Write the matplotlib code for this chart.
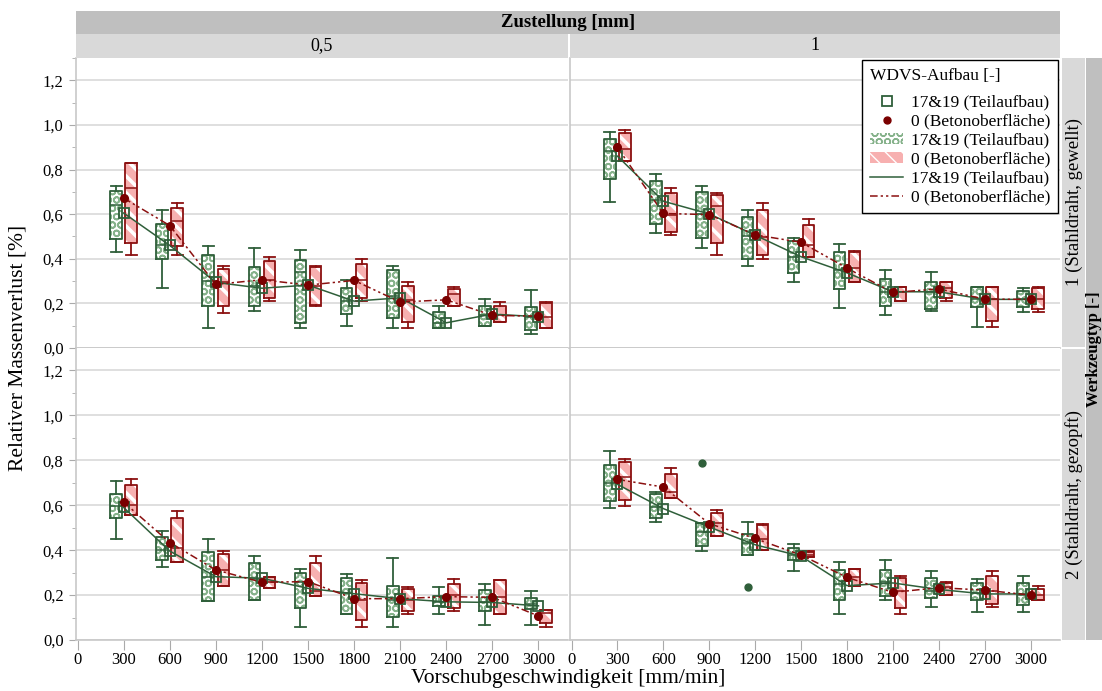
import matplotlib
matplotlib.use('Agg')
import matplotlib.pyplot as plt
from matplotlib.patches import Rectangle, Patch
from matplotlib.lines import Line2D
from matplotlib.ticker import FuncFormatter, MultipleLocator

plt.rcParams['font.family'] = ['Liberation Serif', 'DejaVu Serif']

# ---------------- data ----------------
feed = [300, 600, 900, 1200, 1500, 1800, 2100, 2400, 2700, 3000]
xtick_vals = [0, 300, 600, 900, 1200, 1500, 1800, 2100, 2400, 2700, 3000]
col_labels = ['0,5', '1']
row_labels = ['1 (Stahldraht, gewellt)', '2 (Stahldraht, gezopft)']
series_labels = ['17&19 (Teilaufbau)', '0 (Betonoberfläche)']

# top-left (Zustellung 0,5 / Werkzeug 1)
tl_g_lo   = [0.43, 0.27, 0.09, 0.167, 0.09, 0.098, 0.091, 0.091, 0.098, 0.061]
tl_g_q1   = [0.49, 0.40, 0.19, 0.188, 0.11, 0.152, 0.133, 0.091, 0.098, 0.081]
tl_g_med  = [0.64, 0.46, 0.30, 0.28, 0.34, 0.21, 0.233, 0.11, 0.15, 0.14]
tl_g_q3   = [0.705, 0.556, 0.418, 0.362, 0.394, 0.27, 0.348, 0.163, 0.189, 0.182]
tl_g_hi   = [0.726, 0.62, 0.458, 0.449, 0.44, 0.307, 0.367, 0.188, 0.219, 0.261]
tl_g_mean = [0.605, 0.46, 0.294, 0.268, 0.282, 0.21, 0.225, 0.113, 0.152, 0.14]
tl_r_lo   = [0.419, 0.419, 0.158, 0.209, 0.19, 0.21, 0.091, 0.188, 0.116, 0.089]
tl_r_q1   = [0.471, 0.458, 0.188, 0.224, 0.191, 0.224, 0.116, 0.188, 0.116, 0.089]
tl_r_med  = [0.716, 0.568, 0.294, 0.304, 0.28, 0.304, 0.215, 0.24, 0.15, 0.14]
tl_r_q3   = [0.831, 0.628, 0.356, 0.388, 0.364, 0.377, 0.279, 0.263, 0.189, 0.203]
tl_r_hi   = [0.831, 0.65, 0.367, 0.407, 0.367, 0.398, 0.295, 0.274, 0.207, 0.206]
tl_r_mean = [0.672, 0.549, 0.285, 0.306, 0.282, 0.303, 0.206, 0.216, 0.146, 0.143]

# top-right (Zustellung 1 / Werkzeug 1)
tr_g_lo   = [0.656, 0.516, 0.45, 0.368, 0.295, 0.179, 0.146, 0.167, 0.092, 0.16]
tr_g_q1   = [0.758, 0.558, 0.492, 0.398, 0.337, 0.264, 0.188, 0.176, 0.186, 0.183]
tr_g_med  = [0.885, 0.665, 0.60, 0.50, 0.41, 0.349, 0.252, 0.252, 0.218, 0.218]
tr_g_q3   = [0.937, 0.747, 0.70, 0.588, 0.479, 0.43, 0.31, 0.295, 0.274, 0.254]
tr_g_hi   = [0.968, 0.779, 0.725, 0.619, 0.494, 0.467, 0.348, 0.339, 0.274, 0.27]
tr_g_mean = [0.86, 0.658, 0.601, 0.506, 0.409, 0.337, 0.252, 0.252, 0.218, 0.218]
tr_r_lo   = [0.838, 0.507, 0.419, 0.398, 0.409, 0.295, 0.21, 0.21, 0.092, 0.16]
tr_r_q1   = [0.838, 0.522, 0.47, 0.415, 0.409, 0.295, 0.21, 0.225, 0.122, 0.173]
tr_r_med  = [0.89, 0.594, 0.637, 0.498, 0.461, 0.36, 0.252, 0.271, 0.22, 0.218]
tr_r_q3   = [0.963, 0.697, 0.686, 0.62, 0.553, 0.43, 0.273, 0.295, 0.273, 0.267]
tr_r_hi   = [0.977, 0.716, 0.695, 0.65, 0.579, 0.437, 0.274, 0.298, 0.274, 0.274]
tr_r_mean = [0.899, 0.603, 0.598, 0.507, 0.474, 0.358, 0.249, 0.265, 0.219, 0.218]

# bottom-left (Zustellung 0,5 / Werkzeug 2)
bl_g_lo   = [0.449, 0.327, 0.175, 0.18, 0.06, 0.115, 0.06, 0.115, 0.069, 0.069]
bl_g_q1   = [0.541, 0.354, 0.175, 0.18, 0.142, 0.115, 0.101, 0.152, 0.127, 0.137]
bl_g_med  = [0.596, 0.40, 0.28, 0.27, 0.26, 0.21, 0.18, 0.17, 0.167, 0.16]
bl_g_q3   = [0.651, 0.458, 0.391, 0.342, 0.30, 0.275, 0.239, 0.196, 0.224, 0.187]
bl_g_hi   = [0.706, 0.485, 0.448, 0.376, 0.317, 0.294, 0.367, 0.237, 0.248, 0.218]
bl_g_mean = [0.59, 0.396, 0.282, 0.275, 0.23, 0.206, 0.184, 0.17, 0.167, 0.152]
bl_r_lo   = [0.558, 0.346, 0.242, 0.23, 0.197, 0.06, 0.115, 0.127, 0.115, 0.06]
bl_r_q1   = [0.558, 0.346, 0.242, 0.23, 0.197, 0.09, 0.13, 0.142, 0.115, 0.075]
bl_r_med  = [0.60, 0.409, 0.31, 0.26, 0.22, 0.18, 0.18, 0.20, 0.19, 0.118]
bl_r_q3   = [0.691, 0.541, 0.384, 0.282, 0.342, 0.252, 0.227, 0.249, 0.266, 0.133]
bl_r_hi   = [0.715, 0.576, 0.397, 0.282, 0.376, 0.269, 0.237, 0.27, 0.269, 0.133]
bl_r_mean = [0.614, 0.434, 0.312, 0.257, 0.26, 0.184, 0.184, 0.193, 0.19, 0.107]

# bottom-right (Zustellung 1 / Werkzeug 2)
br_g_lo   = [0.588, 0.525, 0.397, 0.379, 0.306, 0.115, 0.178, 0.145, 0.125, 0.125]
br_g_q1   = [0.619, 0.543, 0.42, 0.379, 0.354, 0.178, 0.197, 0.187, 0.178, 0.157]
br_g_med  = [0.70, 0.59, 0.48, 0.43, 0.38, 0.25, 0.26, 0.22, 0.21, 0.20]
br_g_q3   = [0.781, 0.652, 0.523, 0.473, 0.409, 0.312, 0.312, 0.276, 0.252, 0.252]
br_g_hi   = [0.843, 0.661, 0.523, 0.524, 0.428, 0.348, 0.357, 0.306, 0.273, 0.284]
br_g_mean = [0.693, 0.585, 0.503, 0.424, 0.373, 0.242, 0.254, 0.225, 0.205, 0.205]
br_g_out_x = [900, 1200]
br_g_out_y = [0.788, 0.237]
br_r_lo   = [0.597, 0.631, 0.461, 0.399, 0.369, 0.239, 0.115, 0.202, 0.146, 0.178]
br_r_q1   = [0.624, 0.631, 0.461, 0.399, 0.369, 0.239, 0.142, 0.202, 0.16, 0.178]
br_r_med  = [0.727, 0.66, 0.52, 0.45, 0.38, 0.279, 0.22, 0.235, 0.22, 0.20]
br_r_q3   = [0.794, 0.74, 0.567, 0.51, 0.394, 0.315, 0.276, 0.255, 0.284, 0.227]
br_r_hi   = [0.806, 0.767, 0.578, 0.515, 0.396, 0.317, 0.284, 0.257, 0.306, 0.239]
br_r_mean = [0.715, 0.681, 0.518, 0.452, 0.378, 0.279, 0.212, 0.233, 0.222, 0.20]

# ---------------- style ----------------
G_DARK = '#2f5f3a'
G_HATCH = '#86b28b'
R_DARK = '#8b1010'
R_FILL = '#f7b0b0'
R_MEAN = '#7a0000'
GRID = '#dcdcdc'
SPINE = '#c8c8c8'
OFFSET = 49
BOXW = 76
DASHDOTDOT = (0, (5, 2, 1.5, 2, 1.5, 2))

W, H = 1102, 691
fig = plt.figure(figsize=(W / 100, H / 100), dpi=100)


def frect(x0, y0, x1, y1):
    return [x0 / W, 1 - y1 / H, (x1 - x0) / W, (y1 - y0) / H]


def stats(lo, q1, med, q3, hi):
    return [dict(whislo=a, q1=b, med=c, q3=d, whishi=e, fliers=[])
            for a, b, c, d, e in zip(lo, q1, med, q3, hi)]


def set_hlw(p, lw):
    if hasattr(p, 'set_hatch_linewidth'):
        p.set_hatch_linewidth(lw)


def draw_group(ax, st, pos, dark, face, hcolor, hatch, hlw):
    # filled + hatched boxes
    res = ax.bxp(st, positions=pos, widths=BOXW, patch_artist=True,
                 showcaps=False, showfliers=False,
                 boxprops=dict(facecolor=face, edgecolor=hcolor, linewidth=0, hatch=hatch),
                 whiskerprops=dict(linewidth=0), medianprops=dict(linewidth=0),
                 manage_ticks=False, zorder=2)
    for b in res['boxes']:
        set_hlw(b, hlw)
    # outlines, whiskers, caps, medians
    ax.bxp(st, positions=pos, widths=BOXW, patch_artist=False,
           showfliers=False, capwidths=BOXW * 0.95,
           boxprops=dict(color=dark, linewidth=1.3),
           whiskerprops=dict(color=dark, linewidth=1.3),
           capprops=dict(color=dark, linewidth=1.3),
           medianprops=dict(color=dark, linewidth=1.1),
           manage_ticks=False, zorder=2.5)


panels = [
    ((76, 58, 568, 348), (tl_g_lo, tl_g_q1, tl_g_med, tl_g_q3, tl_g_hi), tl_g_mean,
     (tl_r_lo, tl_r_q1, tl_r_med, tl_r_q3, tl_r_hi), tl_r_mean, None, True, False),
    ((570, 58, 1060, 348), (tr_g_lo, tr_g_q1, tr_g_med, tr_g_q3, tr_g_hi), tr_g_mean,
     (tr_r_lo, tr_r_q1, tr_r_med, tr_r_q3, tr_r_hi), tr_r_mean, None, False, False),
    ((76, 348, 568, 640), (bl_g_lo, bl_g_q1, bl_g_med, bl_g_q3, bl_g_hi), bl_g_mean,
     (bl_r_lo, bl_r_q1, bl_r_med, bl_r_q3, bl_r_hi), bl_r_mean, None, True, True),
    ((570, 348, 1060, 640), (br_g_lo, br_g_q1, br_g_med, br_g_q3, br_g_hi), br_g_mean,
     (br_r_lo, br_r_q1, br_r_med, br_r_q3, br_r_hi), br_r_mean, (br_g_out_x, br_g_out_y), False, True),
]

comma = FuncFormatter(lambda v, p: f'{v:.1f}'.replace('.', ','))
axes = []
for rect, gst, gmean, rst, rmean, outl, show_y, show_x in panels:
    ax = fig.add_axes(frect(*rect))
    axes.append(ax)
    ax.set_xlim(-10, 3192)
    ax.set_ylim(0, 1.3)
    ax.yaxis.set_major_locator(MultipleLocator(0.2))
    ax.yaxis.set_minor_locator(MultipleLocator(0.1))
    ax.set_xticks(xtick_vals)
    ax.grid(axis='y', which='major', color=GRID, linewidth=1.3, zorder=0)
    ax.set_axisbelow(True)
    for s in ['top', 'right']:
        ax.spines[s].set_visible(False)
    for s in ['left', 'bottom']:
        ax.spines[s].set_color(SPINE)
        ax.spines[s].set_linewidth(1.2)

    gpos = [f - OFFSET for f in feed]
    rpos = [f + OFFSET for f in feed]
    draw_group(ax, stats(*gst), gpos, G_DARK, 'white', G_HATCH, 'OO', 1.2)
    draw_group(ax, stats(*rst), rpos, R_DARK, R_FILL, 'white', '\\\\', 2.6)

    ax.plot(feed, gmean, color=G_DARK, linewidth=1.1, zorder=3)
    ax.plot(feed, rmean, color=R_DARK, linewidth=1.1, linestyle=DASHDOTDOT, zorder=3)
    ax.plot(feed, gmean, linestyle='none', marker='s', markersize=6.5,
            markerfacecolor='none', markeredgecolor=G_DARK, markeredgewidth=1.3, zorder=4)
    ax.plot(feed, rmean, linestyle='none', marker='o', markersize=5.5,
            markerfacecolor=R_MEAN, markeredgecolor=R_MEAN, zorder=4.5)
    if outl is not None:
        ax.plot([x - OFFSET for x in outl[0]], outl[1], linestyle='none', marker='o',
                markersize=5, color=G_DARK, zorder=4)

    ax.tick_params(axis='y', which='major', length=5, color='#aaaaaa', labelsize=12, pad=4,
                   left=show_y, labelleft=show_y)
    ax.tick_params(axis='y', which='minor', length=3, color='#aaaaaa', left=show_y)
    ax.tick_params(axis='x', which='major', length=7, color='#aaaaaa', labelsize=12, pad=2,
                   bottom=show_x, labelbottom=show_x)
    ax.yaxis.set_major_formatter(comma)

# legend in top-right panel
handles = [
    Line2D([], [], linestyle='none', marker='s', markersize=6.5, markerfacecolor='none',
           markeredgecolor=G_DARK, markeredgewidth=1.3),
    Line2D([], [], linestyle='none', marker='o', markersize=5, color=R_MEAN),
    Patch(facecolor='white', edgecolor=G_HATCH, hatch='OO', linewidth=0),
    Patch(facecolor=R_FILL, edgecolor='white', hatch='\\\\', linewidth=0),
    Line2D([], [], color=G_DARK, linewidth=1.1),
    Line2D([], [], color=R_DARK, linewidth=1.1, linestyle=DASHDOTDOT),
]
labels = [series_labels[0], series_labels[1]] * 3
leg = axes[1].legend(handles, labels, title='WDVS-Aufbau [-]', loc='upper right',
                     bbox_to_anchor=(1.0, 1.0), borderaxespad=0.1, fontsize=12.5,
                     title_fontsize=12.5, frameon=True, fancybox=False, framealpha=1,
                     edgecolor='black', handlelength=1.9, handleheight=0.6,
                     labelspacing=0.17, borderpad=0.45, alignment='left', handletextpad=0.45)
leg.get_frame().set_linewidth(1.0)
leg.set_zorder(10)
try:
    leg._legend_box.sep = 8
except Exception:
    pass

# strips
STRIP_DARK = '#bfbfbf'
STRIP_LIGHT = '#d9d9d9'
fig.patches.append(Rectangle((76 / W, 1 - 34 / H), (1060 - 76) / W, 23 / H,
                             transform=fig.transFigure, facecolor=STRIP_DARK, edgecolor='none'))
fig.text((76 + 1060) / 2 / W, 1 - 22.5 / H, 'Zustellung [mm]', ha='center', va='center',
         fontsize=13.5, fontweight='bold')
for (x0, x1), lab in zip([(76, 568), (570, 1060)], col_labels):
    fig.patches.append(Rectangle((x0 / W, 1 - 58 / H), (x1 - x0) / W, 23.5 / H,
                                 transform=fig.transFigure, facecolor=STRIP_LIGHT, edgecolor='none'))
    fig.text((x0 + x1) / 2 / W, 1 - 46 / H, lab, ha='center', va='center', fontsize=13)
for (y0, y1), lab in zip([(58, 347), (349, 640)], row_labels):
    fig.patches.append(Rectangle((1062 / W, 1 - y1 / H), 23 / W, (y1 - y0) / H,
                                 transform=fig.transFigure, facecolor=STRIP_LIGHT, edgecolor='none'))
    fig.text(1074 / W, 1 - (y0 + y1) / 2 / H, lab, ha='center', va='center', fontsize=13.5,
             rotation=90)
fig.patches.append(Rectangle((1086 / W, 1 - 640 / H), 30 / W, (640 - 58) / H,
                             transform=fig.transFigure, facecolor=STRIP_DARK, edgecolor='none'))
fig.text(1094 / W, 1 - 349 / H, 'Werkzeugtyp [-]', ha='center', va='center', fontsize=12,
         fontweight='bold', rotation=90)

fig.text(18 / W, 1 - 348 / H, 'Relativer Massenverlust [%]', ha='center', va='center',
         fontsize=15.5, rotation=90)
fig.text(568 / W, 1 - 678 / H, 'Vorschubgeschwindigkeit [mm/min]', ha='center', va='center',
         fontsize=15.5)

fig.savefig('out.png', dpi=100)
